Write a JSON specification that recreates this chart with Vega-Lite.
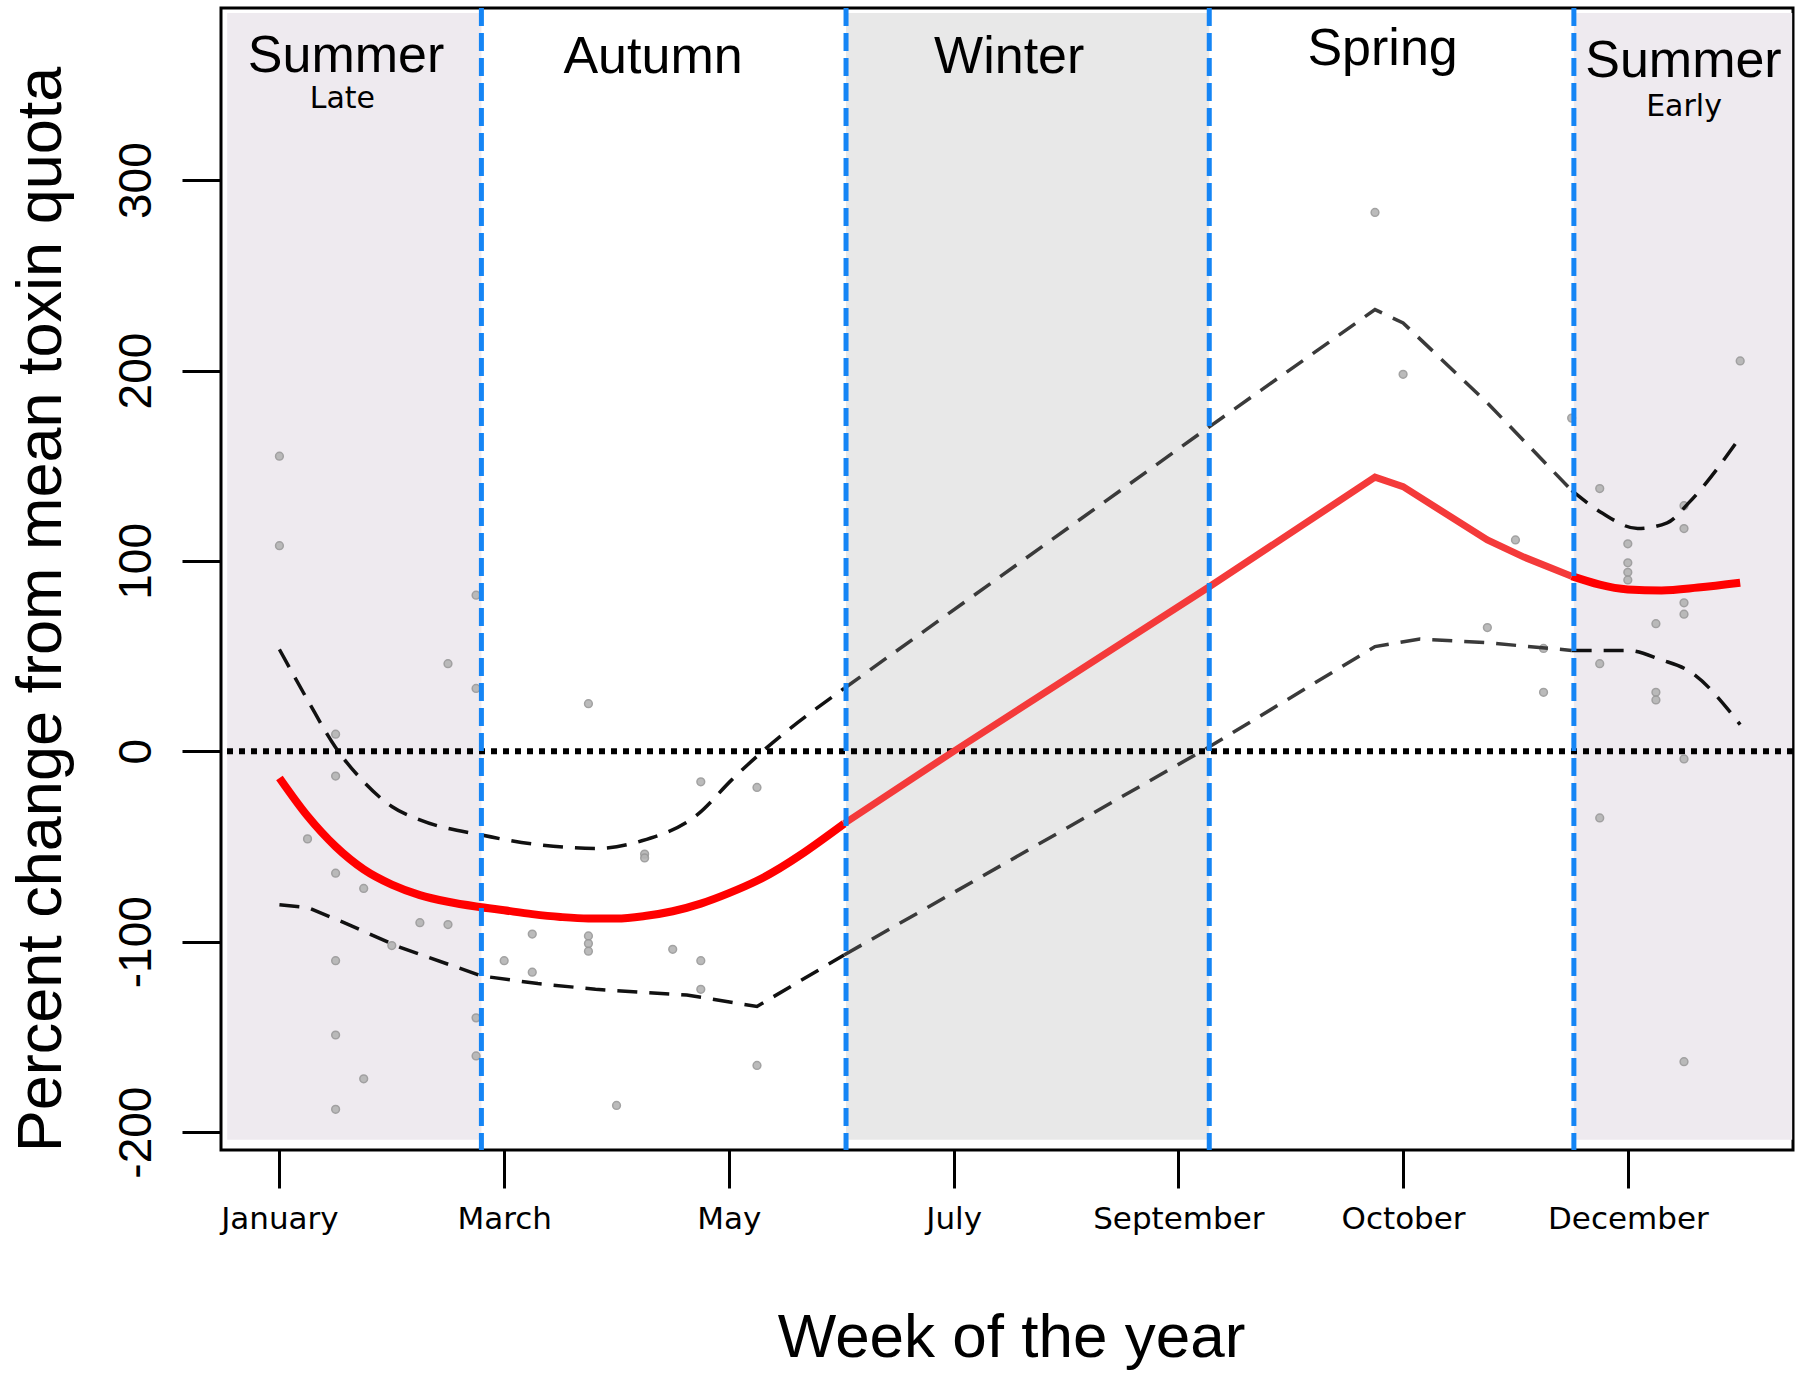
{
  "$schema": "https://vega.github.io/schema/vega-lite/v6.json",
  "width": 1572,
  "height": 1142,
  "autosize": {"type": "none"},
  "padding": {"left": 221, "top": 8, "right": 4, "bottom": 223},
  "background": "white",
  "config": {"view": {"stroke": "black", "strokeWidth": 3}},
  "datasets": {
    "seasons": [
      {"period": "Late summer", "week": -0.86, "week_end": 8.19, "shade": "summer"},
      {"period": "Winter", "week": 21.17, "week_end": 34.1, "shade": "winter"},
      {"period": "Early summer", "week": 47.08, "week_end": 54.85, "shade": "summer"}
    ],
    "bounds": [{"week": 8.19}, {"week": 21.17}, {"week": 34.1}, {"week": 47.08}],
    "zero": [{"value": 0}],
    "obs": [
      {"week": 1, "value": 155}, {"week": 1, "value": 108}, {"week": 2, "value": -46}, {"week": 3, "value": 9},
      {"week": 3, "value": -13}, {"week": 3, "value": -64}, {"week": 3, "value": -110}, {"week": 3, "value": -149},
      {"week": 3, "value": -188}, {"week": 4, "value": -72}, {"week": 4, "value": -172}, {"week": 5, "value": -102},
      {"week": 6, "value": -90}, {"week": 7, "value": 46}, {"week": 7, "value": -91}, {"week": 8, "value": 82},
      {"week": 8, "value": 33}, {"week": 8, "value": -140}, {"week": 8, "value": -160},
      {"week": 9, "value": -110}, {"week": 10, "value": -96}, {"week": 10, "value": -116}, {"week": 12, "value": 25},
      {"week": 12, "value": -97}, {"week": 12, "value": -101}, {"week": 12, "value": -105}, {"week": 13, "value": -186},
      {"week": 14, "value": -54}, {"week": 14, "value": -56}, {"week": 15, "value": -104}, {"week": 16, "value": -16},
      {"week": 16, "value": -110}, {"week": 16, "value": -125}, {"week": 18, "value": -19}, {"week": 18, "value": -165},
      {"week": 40, "value": 283}, {"week": 41, "value": 198}, {"week": 44, "value": 65}, {"week": 45, "value": 111},
      {"week": 46, "value": 54}, {"week": 46, "value": 31}, {"week": 47, "value": 175},
      {"week": 48, "value": 138}, {"week": 48, "value": 46}, {"week": 48, "value": -35}, {"week": 49, "value": 109},
      {"week": 49, "value": 99}, {"week": 49, "value": 94}, {"week": 49, "value": 90}, {"week": 50, "value": 67},
      {"week": 50, "value": 31}, {"week": 50, "value": 27}, {"week": 51, "value": 129}, {"week": 51, "value": 117},
      {"week": 51, "value": 78}, {"week": 51, "value": 72}, {"week": 51, "value": -4}, {"week": 51, "value": -163},
      {"week": 53, "value": 205}
    ],
    "curves": [
      {"curve": "fit", "week": 1, "value": -14}, {"curve": "fit", "week": 2, "value": -34},
      {"curve": "fit", "week": 3, "value": -50}, {"curve": "fit", "week": 4, "value": -62},
      {"curve": "fit", "week": 5, "value": -70}, {"curve": "fit", "week": 6, "value": -75.5},
      {"curve": "fit", "week": 7, "value": -79}, {"curve": "fit", "week": 8, "value": -81.5},
      {"curve": "fit", "week": 9, "value": -83.5}, {"curve": "fit", "week": 10, "value": -85.5},
      {"curve": "fit", "week": 11, "value": -87}, {"curve": "fit", "week": 12, "value": -87.8},
      {"curve": "fit", "week": 13, "value": -87.8}, {"curve": "fit", "week": 14, "value": -86.5},
      {"curve": "fit", "week": 15, "value": -84}, {"curve": "fit", "week": 16, "value": -80},
      {"curve": "fit", "week": 17, "value": -74.5}, {"curve": "fit", "week": 18, "value": -68},
      {"curve": "fit", "week": 21.1, "value": -38}, {"curve": "fit", "week": 25, "value": 0},
      {"curve": "fit", "week": 34.06, "value": 86}, {"curve": "fit", "week": 40, "value": 144},
      {"curve": "fit", "week": 41, "value": 139}, {"curve": "fit", "week": 44, "value": 111},
      {"curve": "fit", "week": 45.3, "value": 102}, {"curve": "fit", "week": 47, "value": 92},
      {"curve": "fit", "week": 49, "value": 85}, {"curve": "fit", "week": 50.2, "value": 84.5},
      {"curve": "fit", "week": 51.5, "value": 86}, {"curve": "fit", "week": 53, "value": 88.5},
      {"curve": "upper", "week": 1, "value": 53.5}, {"curve": "upper", "week": 2, "value": 27},
      {"curve": "upper", "week": 3, "value": 2}, {"curve": "upper", "week": 4, "value": -16},
      {"curve": "upper", "week": 5, "value": -29}, {"curve": "upper", "week": 6, "value": -36},
      {"curve": "upper", "week": 8.2, "value": -44}, {"curve": "upper", "week": 10.2, "value": -49},
      {"curve": "upper", "week": 12.25, "value": -51}, {"curve": "upper", "week": 13.9, "value": -47},
      {"curve": "upper", "week": 15.9, "value": -33}, {"curve": "upper", "week": 17.1, "value": -15},
      {"curve": "upper", "week": 18.2, "value": 0}, {"curve": "upper", "week": 21.1, "value": 33},
      {"curve": "upper", "week": 34.06, "value": 170}, {"curve": "upper", "week": 40, "value": 232},
      {"curve": "upper", "week": 41, "value": 225}, {"curve": "upper", "week": 44, "value": 183},
      {"curve": "upper", "week": 47, "value": 137}, {"curve": "upper", "week": 48.1, "value": 125},
      {"curve": "upper", "week": 49.35, "value": 117}, {"curve": "upper", "week": 50.4, "value": 120},
      {"curve": "upper", "week": 51.2, "value": 131}, {"curve": "upper", "week": 53, "value": 165},
      {"curve": "lower", "week": 1, "value": -80.6}, {"curve": "lower", "week": 2, "value": -82},
      {"curve": "lower", "week": 3.3, "value": -90}, {"curve": "lower", "week": 5.3, "value": -103},
      {"curve": "lower", "week": 8.2, "value": -118}, {"curve": "lower", "week": 10.2, "value": -122},
      {"curve": "lower", "week": 12.25, "value": -125}, {"curve": "lower", "week": 15.5, "value": -128},
      {"curve": "lower", "week": 18, "value": -134}, {"curve": "lower", "week": 21.1, "value": -107},
      {"curve": "lower", "week": 34.06, "value": 2}, {"curve": "lower", "week": 40, "value": 55},
      {"curve": "lower", "week": 41.6, "value": 59}, {"curve": "lower", "week": 44, "value": 57},
      {"curve": "lower", "week": 47, "value": 53}, {"curve": "lower", "week": 49, "value": 53},
      {"curve": "lower", "week": 50.2, "value": 48}, {"curve": "lower", "week": 51.2, "value": 42},
      {"curve": "lower", "week": 53, "value": 14}
    ],
    "labels": [
      {"label": "Summer", "week": 3.37, "value": 357},
      {"label": "Autumn", "week": 14.3, "value": 356},
      {"label": "Winter", "week": 26.98, "value": 356},
      {"label": "Spring", "week": 40.27, "value": 360.4},
      {"label": "Summer", "week": 50.98, "value": 354}
    ],
    "sublabels": [
      {"label": "Late", "week": 3.24, "value": 338},
      {"label": "Early", "week": 51, "value": 333.5}
    ]
  },
  "layer": [
    {
      "data": {"name": "seasons"},
      "mark": {"type": "rect", "clip": true},
      "encoding": {
        "x": {
          "field": "week", "type": "quantitative",
          "scale": {"domain": [-1.08, 54.88], "nice": false, "zero": false},
          "axis": {
            "values": [1, 9, 17, 25, 33, 41, 49],
            "labelExpr": "datum.value == 1 ? 'January' : datum.value == 9 ? 'March' : datum.value == 17 ? 'May' : datum.value == 25 ? 'July' : datum.value == 33 ? 'September' : datum.value == 41 ? 'October' : 'December'",
            "domain": false, "grid": false,
            "tickColor": "black", "tickWidth": 3, "tickSize": 38,
            "labelFont": "DejaVu Sans", "labelFontSize": 31, "labelColor": "black",
            "labelPadding": 31, "labelBaseline": "middle", "labelFlush": false, "labelOverlap": false,
            "title": "Week of the year", "titleFont": "Liberation Sans", "titleFontSize": 62,
            "titleFontWeight": "normal", "titleColor": "black",
            "titleX": 790, "titleY": 206, "titleBaseline": "alphabetic", "titleAlign": "center"
          }
        },
        "x2": {"field": "week_end"},
        "y": {
          "datum": -204, "type": "quantitative",
          "scale": {"domain": [-209.4, 390.4], "nice": false, "zero": false},
          "axis": {
            "values": [-200, -100, 0, 100, 200, 300],
            "labelExpr": "'' + datum.value",
            "domain": false, "grid": false,
            "tickColor": "black", "tickWidth": 3, "tickSize": 39,
            "labelAngle": 270, "labelAlign": "center", "labelBaseline": "middle",
            "labelPadding": 46, "labelFont": "Liberation Sans", "labelFontSize": 46, "labelColor": "black",
            "labelFlush": false, "labelOverlap": false,
            "title": "Percent change from mean toxin quota", "titleFont": "Liberation Sans", "titleFontSize": 63,
            "titleFontWeight": "normal", "titleColor": "black", "titleAngle": 270,
            "titleX": -161, "titleY": 601, "titleBaseline": "alphabetic", "titleAlign": "center"
          }
        },
        "y2": {"datum": 387.8},
        "color": {
          "field": "shade", "type": "nominal",
          "scale": {"domain": ["summer", "winter"], "range": ["#EEEAEF", "#E8E8E8"]},
          "legend": null
        }
      }
    },
    {
      "data": {"name": "zero"},
      "mark": {"type": "rule", "color": "black", "strokeWidth": 6, "strokeDash": [6, 6]},
      "encoding": {"y": {"field": "value", "type": "quantitative"}}
    },
    {
      "data": {"name": "obs"},
      "mark": {"type": "point", "shape": "circle", "filled": true, "size": 60, "fill": "#B4B4B4", "stroke": "#999999", "strokeWidth": 1.5, "opacity": 0.9},
      "encoding": {
        "x": {"field": "week", "type": "quantitative"},
        "y": {"field": "value", "type": "quantitative"}
      }
    },
    {
      "data": {"name": "curves"},
      "transform": [{"filter": "datum.curve == 'upper' && datum.week <= 21.1"}],
      "mark": {"type": "line", "color": "#111111", "strokeWidth": 3.5, "strokeDash": [20, 12], "interpolate": "monotone"},
      "encoding": {
        "x": {"field": "week", "type": "quantitative"},
        "y": {"field": "value", "type": "quantitative"}
      }
    },
    {
      "data": {"name": "curves"},
      "transform": [{"filter": "datum.curve == 'lower' && datum.week <= 21.1"}],
      "mark": {"type": "line", "color": "#111111", "strokeWidth": 3.5, "strokeDash": [20, 12]},
      "encoding": {
        "x": {"field": "week", "type": "quantitative"},
        "y": {"field": "value", "type": "quantitative"}
      }
    },
    {
      "data": {"name": "curves"},
      "transform": [{"filter": "datum.curve != 'fit' && datum.week >= 21.1 && datum.week <= 47"}],
      "mark": {"type": "line", "color": "#3A3A3A", "strokeWidth": 3.5, "strokeDash": [20, 12]},
      "encoding": {
        "x": {"field": "week", "type": "quantitative"},
        "y": {"field": "value", "type": "quantitative"},
        "detail": {"field": "curve"}
      }
    },
    {
      "data": {"name": "curves"},
      "transform": [{"filter": "datum.curve != 'fit' && datum.week >= 47"}],
      "mark": {"type": "line", "color": "#111111", "strokeWidth": 3.5, "strokeDash": [20, 12], "interpolate": "monotone"},
      "encoding": {
        "x": {"field": "week", "type": "quantitative"},
        "y": {"field": "value", "type": "quantitative"},
        "detail": {"field": "curve"}
      }
    },
    {
      "data": {"name": "curves"},
      "transform": [{"filter": "datum.curve == 'fit' && datum.week <= 21.1"}],
      "mark": {"type": "line", "color": "#FF0000", "strokeWidth": 8, "interpolate": "monotone"},
      "encoding": {
        "x": {"field": "week", "type": "quantitative"},
        "y": {"field": "value", "type": "quantitative"}
      }
    },
    {
      "data": {"name": "curves"},
      "transform": [{"filter": "datum.curve == 'fit' && datum.week >= 21.1 && datum.week <= 47"}],
      "mark": {"type": "line", "color": "#F43A3A", "strokeWidth": 7},
      "encoding": {
        "x": {"field": "week", "type": "quantitative"},
        "y": {"field": "value", "type": "quantitative"}
      }
    },
    {
      "data": {"name": "curves"},
      "transform": [{"filter": "datum.curve == 'fit' && datum.week >= 47"}],
      "mark": {"type": "line", "color": "#FF0000", "strokeWidth": 8, "interpolate": "monotone"},
      "encoding": {
        "x": {"field": "week", "type": "quantitative"},
        "y": {"field": "value", "type": "quantitative"}
      }
    },
    {
      "data": {"name": "bounds"},
      "mark": {"type": "rule", "color": "#1585F5", "strokeWidth": 5, "strokeDash": [18, 7]},
      "encoding": {"x": {"field": "week", "type": "quantitative"}}
    },
    {
      "data": {"name": "labels"},
      "mark": {"type": "text", "font": "Liberation Sans", "fontSize": 52, "color": "black", "align": "center", "baseline": "alphabetic"},
      "encoding": {
        "x": {"field": "week", "type": "quantitative"},
        "y": {"field": "value", "type": "quantitative"},
        "text": {"field": "label"}
      }
    },
    {
      "data": {"name": "sublabels"},
      "mark": {"type": "text", "font": "DejaVu Sans", "fontSize": 30, "color": "black", "align": "center", "baseline": "alphabetic"},
      "encoding": {
        "x": {"field": "week", "type": "quantitative"},
        "y": {"field": "value", "type": "quantitative"},
        "text": {"field": "label"}
      }
    }
  ]
}
